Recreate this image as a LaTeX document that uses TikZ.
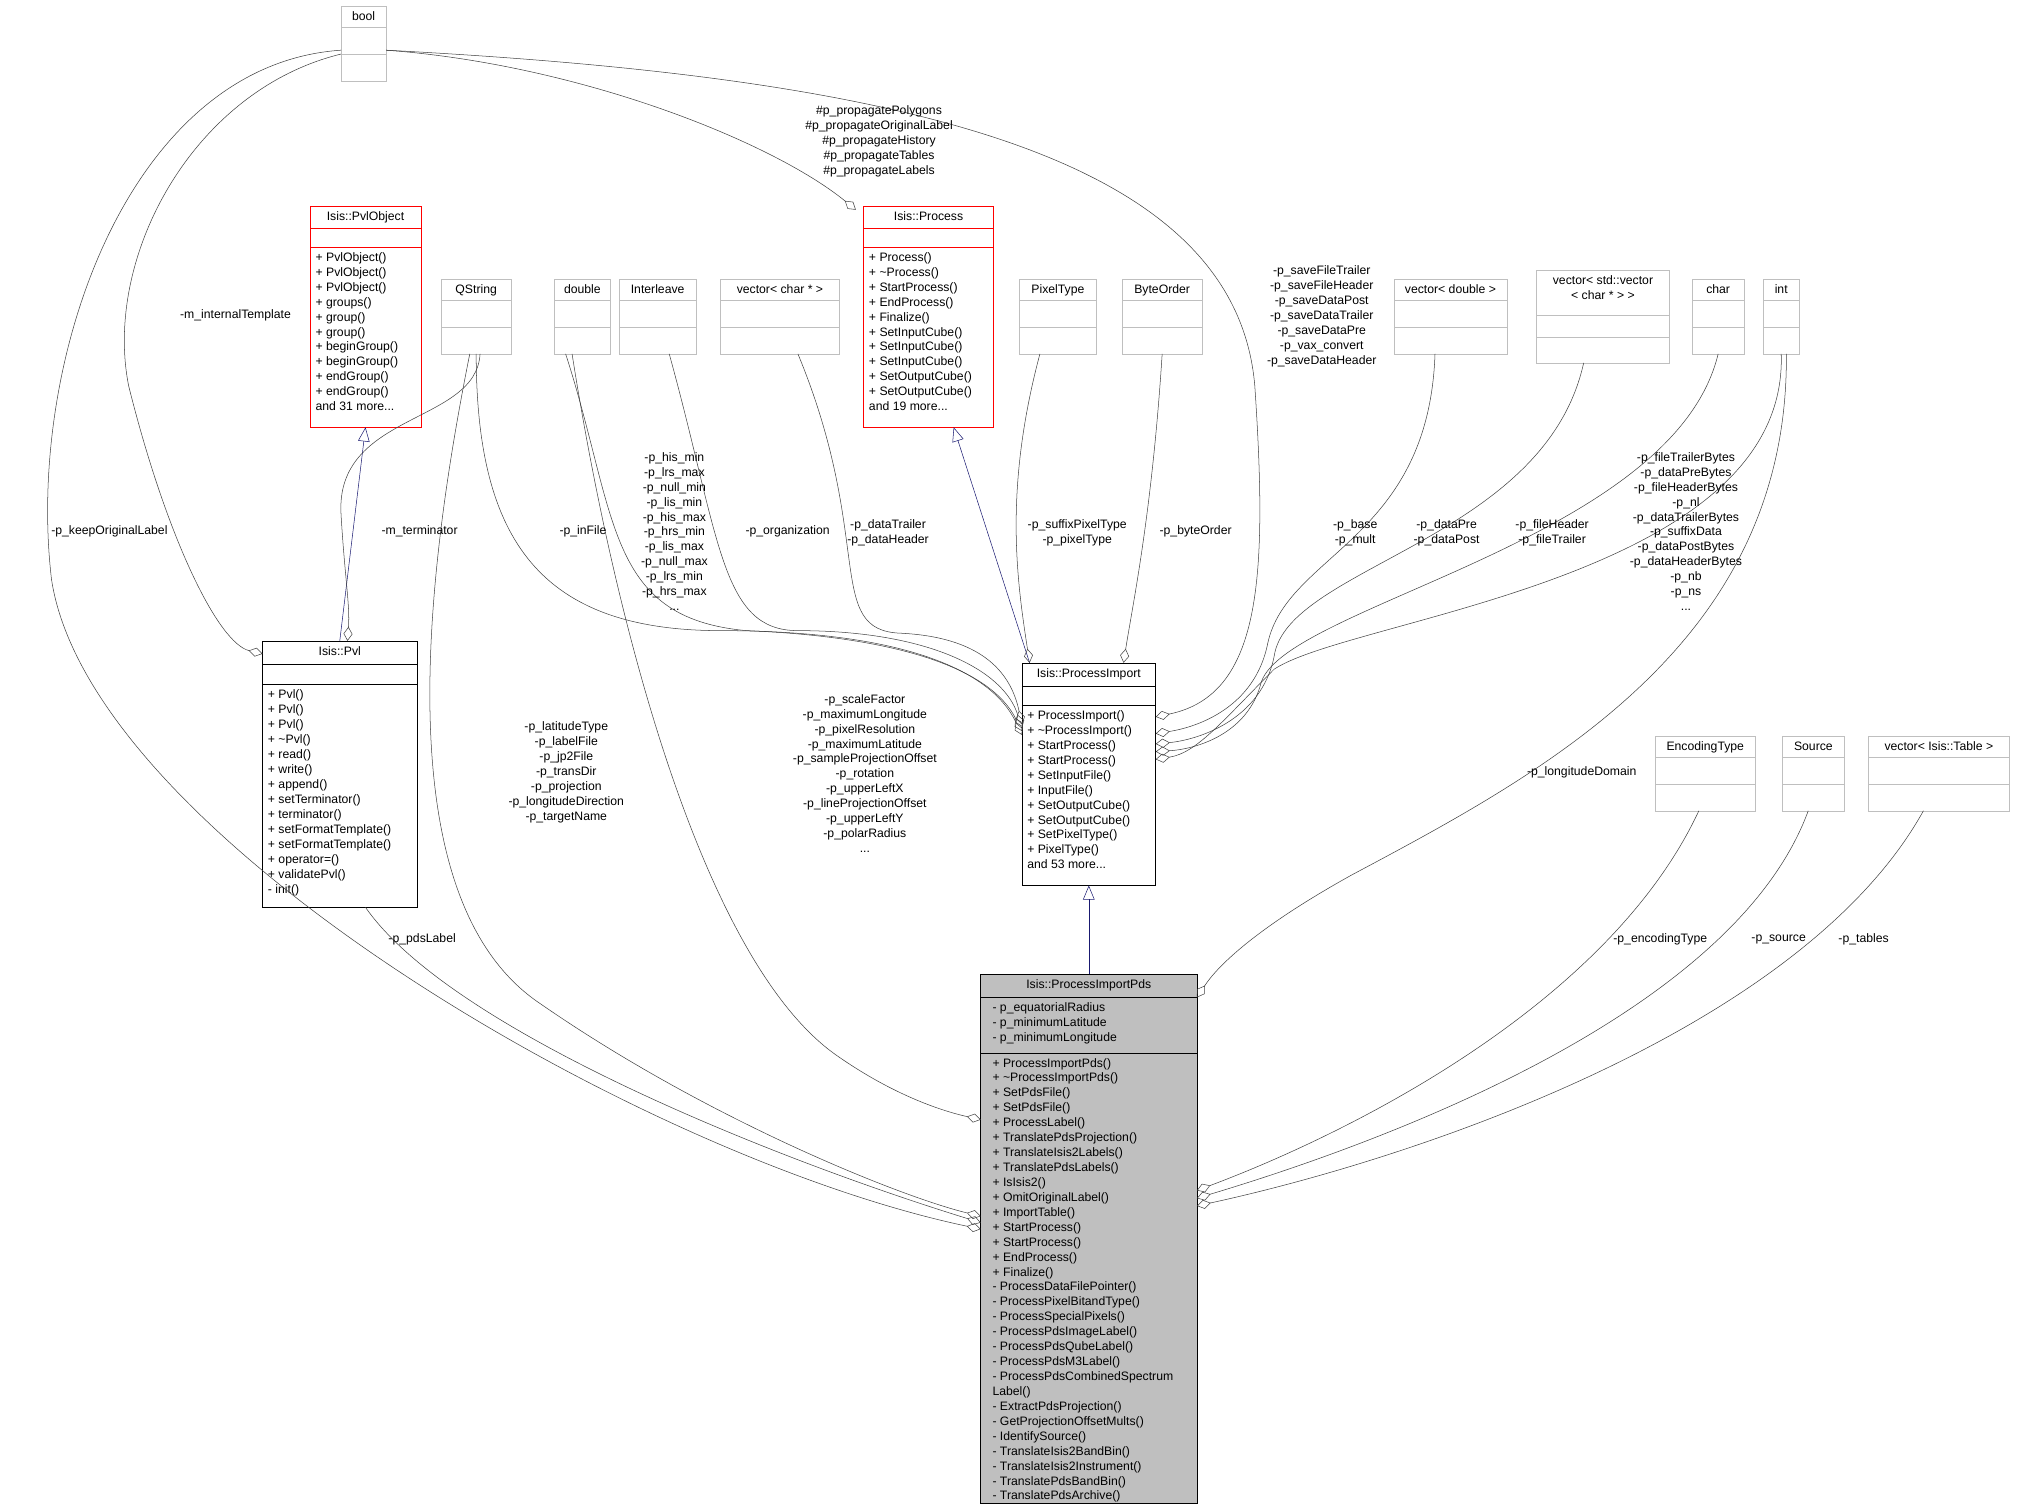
\documentclass[tikz,border=0pt]{standalone}
\usepackage{fontspec}
\setmainfont{Liberation Sans}
\usetikzlibrary{arrows.meta, calc, positioning}
\definecolor{boxgray}{RGB}{191,191,191}
\definecolor{linegray}{RGB}{64,64,64}
\definecolor{inhblue}{RGB}{25,25,112}

\tikzset{
  clsbox/.style={rectangle, anchor=north west, inner sep=0pt, outer sep=0pt, fill=white},
  clstitle/.style={font=\fontsize{9.5}{11.6}\selectfont, inner sep=0pt, anchor=north},
  members/.style={font=\fontsize{9.5}{11.6}\selectfont, inner sep=0pt, anchor=north west, align=left},
  edgelabel/.style={font=\fontsize{9.5}{11.6}\selectfont, inner sep=0pt, align=center},
  uses/.style={draw=linegray, -{Diamond[open,length=11pt,width=7pt]}},
  isa/.style={draw=inhblue, -{Triangle[open,length=11pt,width=9pt]}},
}
% compartment separator: node, offset from top, colour
\newcommand\compsep[3]{\draw[#3] ($(#1.north west)+(0,#2)$) -- ($(#1.north east)+(0,#2)$);}
% plain type box with two empty compartments
\newcommand\typebox[6]{%
  \node[clsbox, draw=boxgray, minimum width=#4pt, minimum height=58pt] (#1) at (#2,#3) {};
  \node[clstitle] at ($(#1.north)+(0,4)$) {#5};
  \compsep{#1}{#6}{boxgray}
  \compsep{#1}{37}{boxgray}}

\begin{document}
\begin{tikzpicture}[x=1pt, y=-1pt]
    \useasboundingbox (0,0) rectangle (1568,1172);

    % Plain types
    \typebox{bool}{265}{5}{35}{bool}{16}
    \typebox{qstring}{343}{217}{54}{QString}{16}
    \typebox{double}{431}{217}{43}{double}{16}
    \typebox{interleave}{481}{217}{60}{Interleave}{16}
    \typebox{vecchar}{560}{217}{92}{vector< char * >}{16}
    \typebox{pixeltype}{792}{217}{60}{PixelType}{16}
    \typebox{byteorder}{872}{217}{62}{ByteOrder}{16}
    \typebox{vecdouble}{1083}{217}{88}{vector< double >}{16}
    \typebox{charT}{1315}{217}{40}{char}{16}
    \typebox{intT}{1370}{217}{28}{int}{16}
    \typebox{encoding}{1286}{572}{78}{EncodingType}{16}
    \typebox{source}{1385}{572}{48}{Source}{16}
    \typebox{vectable}{1452}{572}{109}{vector< Isis::Table >}{16}

    \node[clsbox, draw=boxgray, minimum width=103pt, minimum height=72pt] (vecvec) at (1194,210) {};
    \node[clstitle, align=center] at ($(vecvec.north)+(0,4)$) {vector< std::vector\\< char * > >};
    \compsep{vecvec}{35}{boxgray}
    \compsep{vecvec}{52}{boxgray}

    % Isis::PvlObject
    \node[clsbox, draw=red, minimum width=86pt, minimum height=172pt] (pvlobject) at (241,160) {};
    \node[clstitle] at ($(pvlobject.north)+(0,4)$) {Isis::PvlObject};
    \compsep{pvlobject}{17}{red}
    \compsep{pvlobject}{32}{red}
    \node[members] at ($(pvlobject.north west)+(4,36)$) {+ PvlObject()\\+ PvlObject()\\+ PvlObject()\\+ groups()\\+ group()\\+ group()\\+ beginGroup()\\+ beginGroup()\\+ endGroup()\\+ endGroup()\\and 31 more...};

    % Isis::Process
    \node[clsbox, draw=red, minimum width=101pt, minimum height=172pt] (process) at (671,160) {};
    \node[clstitle] at ($(process.north)+(0,4)$) {Isis::Process};
    \compsep{process}{17}{red}
    \compsep{process}{32}{red}
    \node[members] at ($(process.north west)+(4,36)$) {+ Process()\\+ \textasciitilde Process()\\+ StartProcess()\\+ EndProcess()\\+ Finalize()\\+ SetInputCube()\\+ SetInputCube()\\+ SetInputCube()\\+ SetOutputCube()\\+ SetOutputCube()\\and 19 more...};

    % Isis::Pvl
    \node[clsbox, draw=black, minimum width=120pt, minimum height=207pt] (pvl) at (204,498) {};
    \node[clstitle] at ($(pvl.north)+(0,4)$) {Isis::Pvl};
    \compsep{pvl}{18}{black}
    \compsep{pvl}{34}{black}
    \node[members] at ($(pvl.north west)+(4,38)$) {+ Pvl()\\+ Pvl()\\+ Pvl()\\+ \textasciitilde Pvl()\\+ read()\\+ write()\\+ append()\\+ setTerminator()\\+ terminator()\\+ setFormatTemplate()\\+ setFormatTemplate()\\+ operator=()\\+ validatePvl()\\- init()};

    % Isis::ProcessImport
    \node[clsbox, draw=black, minimum width=104pt, minimum height=173pt] (pimport) at (794,515) {};
    \node[clstitle] at ($(pimport.north)+(0,4)$) {Isis::ProcessImport};
    \compsep{pimport}{18}{black}
    \compsep{pimport}{33}{black}
    \node[members] at ($(pimport.north west)+(4,37)$) {+ ProcessImport()\\+ \textasciitilde ProcessImport()\\+ StartProcess()\\+ StartProcess()\\+ SetInputFile()\\+ InputFile()\\+ SetOutputCube()\\+ SetOutputCube()\\+ SetPixelType()\\+ PixelType()\\and 53 more...};

    % Isis::ProcessImportPds
    \node[clsbox, draw=black, fill=boxgray, minimum width=168pt, minimum height=411pt] (pds) at (762,757) {};
    \node[clstitle] at ($(pds.north)+(0,4)$) {Isis::ProcessImportPds};
    \compsep{pds}{18}{black}
    \compsep{pds}{61}{black}
    \node[members] at ($(pds.north west)+(9,22)$) {- p\_equatorialRadius\\- p\_minimumLatitude\\- p\_minimumLongitude};
    \node[members] at ($(pds.north west)+(9,65)$) {+ ProcessImportPds()\\+ \textasciitilde ProcessImportPds()\\+ SetPdsFile()\\+ SetPdsFile()\\+ ProcessLabel()\\+ TranslatePdsProjection()\\+ TranslateIsis2Labels()\\+ TranslatePdsLabels()\\+ IsIsis2()\\+ OmitOriginalLabel()\\+ ImportTable()\\+ StartProcess()\\+ StartProcess()\\+ EndProcess()\\+ Finalize()\\- ProcessDataFilePointer()\\- ProcessPixelBitandType()\\- ProcessSpecialPixels()\\- ProcessPdsImageLabel()\\- ProcessPdsQubeLabel()\\- ProcessPdsM3Label()\\- ProcessPdsCombinedSpectrum\\Label()\\- ExtractPdsProjection()\\- GetProjectionOffsetMults()\\- IdentifySource()\\- TranslateIsis2BandBin()\\- TranslateIsis2Instrument()\\- TranslatePdsBandBin()\\- TranslatePdsArchive()};

    % Inheritance
    \draw[isa] (pvl.north) -- (pvlobject.south);
    \draw[isa] ($(pimport.north west)+(6,0)$) -- ($(process.south west)+(70,0)$);
    \draw[isa] (pds.north) -- (pimport.south);

    % Members from bool
    \draw[uses] ($(bool.west)+(0,5)$) .. controls (100,50) and (20,280) .. (40,450) .. controls (70,650) and (500,900) .. ($(pds.north west)+(0,198)$);
    \draw[uses] ($(bool.west)+(0,8)$) .. controls (150,70) and (80,200) .. (100,300) .. controls (130,420) and (170,500) .. ($(pvl.north west)+(0,10)$);
    \draw[uses] ($(bool.east)+(0,5)$) .. controls (450,50) and (600,110) .. ($(process.north west)+(-6,3)$);
    \draw[uses] ($(bool.east)+(0,5)$) .. controls (700,60) and (960,120) .. (975,300) .. controls (985,450) and (980,540) .. ($(pimport.north east)+(0,42)$);

    % Members from the other types
    \draw[uses] ($(qstring.south)+(3,0)$) .. controls (370,330) and (260,320) .. (265,400) .. controls (268,450) and (272,470) .. ($(pvl.north)+(6,0)$);
    \draw[uses] ($(qstring.south)+(0,0)$) .. controls (370,420) and (420,490) .. (560,490) .. controls (700,490) and (770,520) .. ($(pimport.north west)+(0,56)$);
    \draw[uses] ($(qstring.south)+(-5,0)$) .. controls (330,450) and (300,700) .. (420,780) .. controls (550,870) and (700,930) .. ($(pds.north west)+(0,188)$);
    \draw[uses] ($(double.south)+(-13,0)$) .. controls (480,400) and (470,480) .. (580,490) .. controls (700,495) and (770,520) .. ($(pimport.north west)+(0,53)$);
    \draw[uses] ($(double.south)+(-8,0)$) .. controls (480,500) and (550,750) .. (650,820) .. controls (700,855) and (740,865) .. ($(pds.north west)+(0,113)$);
    \draw[uses] ($(interleave.south)+(9,0)$) .. controls (560,420) and (560,490) .. (620,490) .. controls (720,490) and (780,520) .. ($(pimport.north west)+(0,51)$);
    \draw[uses] ($(vecchar.south)+(14,0)$) .. controls (680,420) and (640,490) .. (700,492) .. controls (760,495) and (785,520) .. ($(pimport.north west)+(0,48)$);
    \draw[uses] ($(pixeltype.south)+(-14,0)$) .. controls (780,380) and (790,450) .. ($(pimport.north west)+(6,0)$);
    \draw[uses] (byteorder.south) .. controls (895,400) and (880,470) .. ($(pimport.north west)+(79,0)$);
    \draw[uses] ($(vecdouble.south)+(-12,0)$) .. controls (1110,420) and (1000,430) .. (985,500) .. controls (975,550) and (930,565) .. ($(pimport.north east)+(0,55)$);
    \draw[uses] ($(vecvec.south)+(-15,0)$) .. controls (1200,420) and (1000,440) .. (990,510) .. controls (980,560) and (930,575) .. ($(pimport.north east)+(0,63)$);
    \draw[uses] (charT.south) .. controls (1300,420) and (1000,470) .. (980,530) .. controls (970,570) and (930,582) .. ($(pimport.north east)+(0,69)$);
    \draw[uses] (intT.south) .. controls (1390,450) and (1050,480) .. (990,520) .. controls (950,560) and (930,585) .. ($(pimport.north east)+(0,75)$);
    \draw[uses] ($(intT.south)+(4,0)$) .. controls (1390,500) and (1200,600) .. (1050,680) .. controls (960,730) and (940,760) .. ($(pds.north east)+(0,18)$);
    \draw[uses] ($(pvl.south)+(20,0)$) .. controls (350,800) and (600,900) .. ($(pds.north west)+(0,193)$);
    \draw[uses] ($(encoding.south)+(-5,0)$) .. controls (1250,780) and (1050,880) .. ($(pds.north east)+(0,168)$);
    \draw[uses] ($(source.south)+(-4,0)$) .. controls (1350,780) and (1100,880) .. ($(pds.north east)+(0,174)$);
    \draw[uses] ($(vectable.south)+(-12,0)$) .. controls (1400,800) and (1100,900) .. ($(pds.north east)+(0,180)$);

    % Edge labels
    \node[edgelabel] (lkeep) at (85,413) {-p\_keepOriginalLabel};
    \node[edgelabel] (ltempl) at (183,245) {-m\_internalTemplate};
    \node[edgelabel] (lprop) at (683,110) {\#p\_propagatePolygons\\\#p\_propagateOriginalLabel\\\#p\_propagateHistory\\\#p\_propagateTables\\\#p\_propagateLabels};
    \node[edgelabel] (lsave) at (1027,246) {-p\_saveFileTrailer\\-p\_saveFileHeader\\-p\_saveDataPost\\-p\_saveDataTrailer\\-p\_saveDataPre\\-p\_vax\_convert\\-p\_saveDataHeader};
    \node[edgelabel] (lterm) at (326,413) {-m\_terminator};
    \node[edgelabel] (linfile) at (453,413) {-p\_inFile};
    \node[edgelabel] (lqpds) at (440,600) {-p\_latitudeType\\-p\_labelFile\\-p\_jp2File\\-p\_transDir\\-p\_projection\\-p\_longitudeDirection\\-p\_targetName};
    \node[edgelabel] (ldpi) at (524,413) {-p\_his\_min\\-p\_lrs\_max\\-p\_null\_min\\-p\_lis\_min\\-p\_his\_max\\-p\_hrs\_min\\-p\_lis\_max\\-p\_null\_max\\-p\_lrs\_min\\-p\_hrs\_max\\...};
    \node[edgelabel] (ldpds) at (672,601) {-p\_scaleFactor\\-p\_maximumLongitude\\-p\_pixelResolution\\-p\_maximumLatitude\\-p\_sampleProjectionOffset\\-p\_rotation\\-p\_upperLeftX\\-p\_lineProjectionOffset\\-p\_upperLeftY\\-p\_polarRadius\\...};
    \node[edgelabel] (lorg) at (612,413) {-p\_organization};
    \node[edgelabel] (ldata) at (690,414) {-p\_dataTrailer\\-p\_dataHeader};
    \node[edgelabel] (lpix) at (837,414) {-p\_suffixPixelType\\-p\_pixelType};
    \node[edgelabel] (lbyte) at (929,413) {-p\_byteOrder};
    \node[edgelabel] (lbase) at (1053,414) {-p\_base\\-p\_mult};
    \node[edgelabel] (lpre) at (1124,414) {-p\_dataPre\\-p\_dataPost};
    \node[edgelabel] (lhead) at (1206,414) {-p\_fileHeader\\-p\_fileTrailer};
    \node[edgelabel] (lbytes) at (1310,413) {-p\_fileTrailerBytes\\-p\_dataPreBytes\\-p\_fileHeaderBytes\\-p\_nl\\-p\_dataTrailerBytes\\-p\_suffixData\\-p\_dataPostBytes\\-p\_dataHeaderBytes\\-p\_nb\\-p\_ns\\...};
    \node[edgelabel] (llon) at (1229,600) {-p\_longitudeDomain};
    \node[edgelabel] (lpds) at (328,730) {-p\_pdsLabel};
    \node[edgelabel] (lenc) at (1290,730) {-p\_encodingType};
    \node[edgelabel] (lsrc) at (1382,730) {-p\_source};
    \node[edgelabel] (ltab) at (1448,730) {-p\_tables};
\end{tikzpicture}
\end{document}
